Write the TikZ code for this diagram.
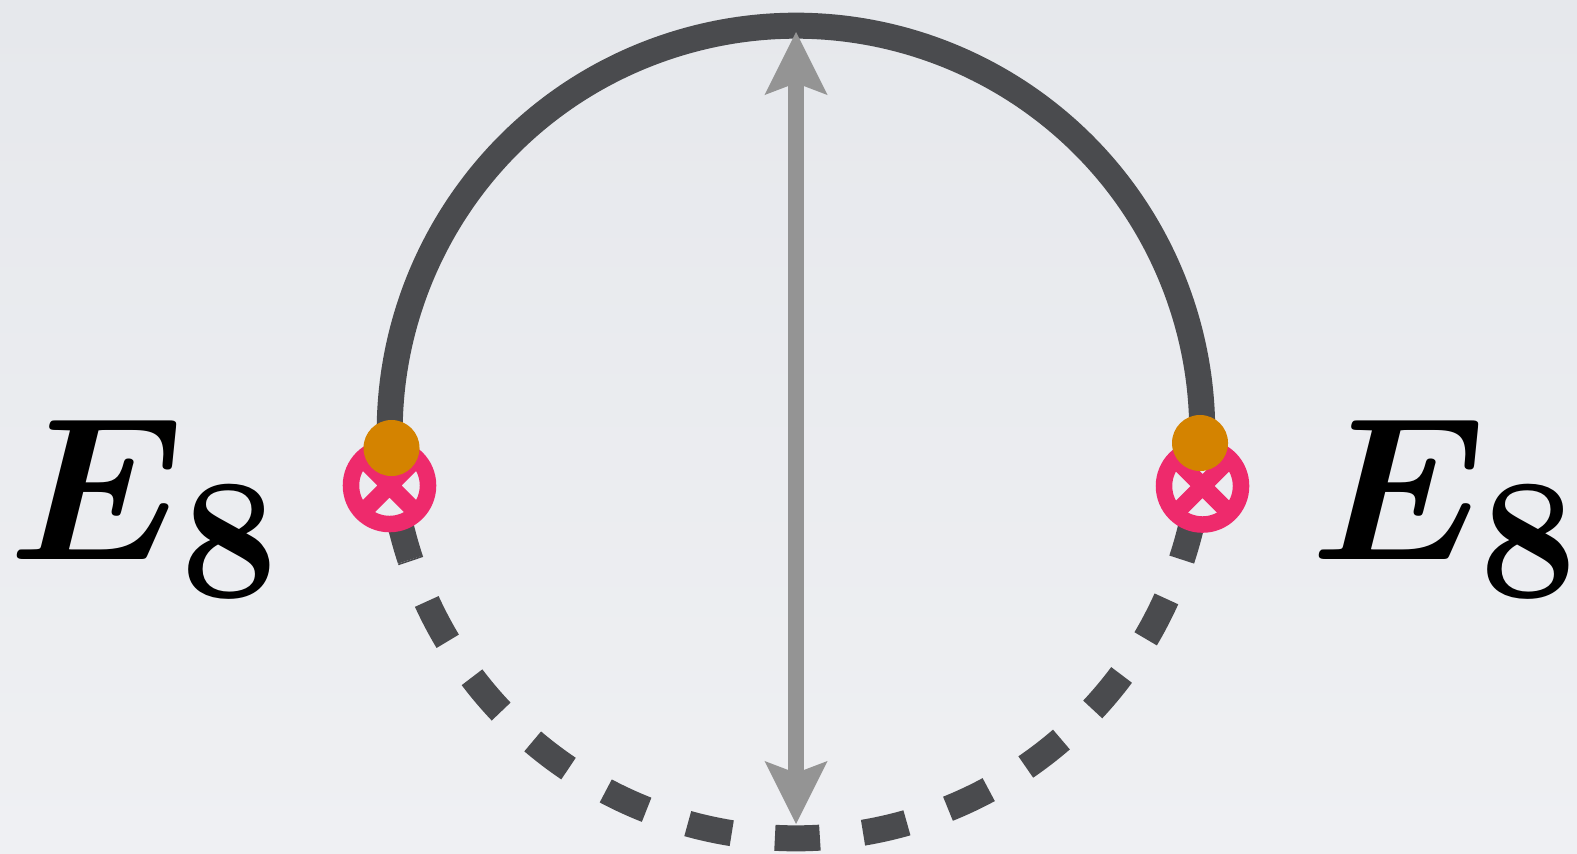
\documentclass[tikz,border=0pt]{standalone}
\usepackage{amsmath}
\usetikzlibrary{arrows.meta}
\definecolor{bgtop}{HTML}{E6E8EC}
\definecolor{bgbot}{HTML}{EFF0F3}
\definecolor{loopgray}{HTML}{4A4B4E}
\definecolor{axisgray}{HTML}{949494}
\definecolor{branepink}{HTML}{EE2A6C}
\definecolor{pointorange}{HTML}{D48300}
\tikzset{
  loopline/.style={draw=loopgray, line width=0.26cm},
  brane/.style={circle, draw=branepink, fill=bgbot!60!bgtop, line width=0.165cm, minimum size=0.77cm, inner sep=0pt, outer sep=0pt},
  orangedot/.style={circle, fill=pointorange, minimum size=0.56cm, inner sep=0pt},
  elabel/.style={font=\Huge\boldmath, scale=2.33, anchor=base west, inner sep=0pt}
}
\begin{document}
\begin{tikzpicture}[x=0.01cm, y=0.01cm, >={Stealth[length=0.63cm, width=0.63cm, inset=0.12cm, line width=0pt]}]
  \useasboundingbox[top color=bgtop, bottom color=bgbot] (0,0) rectangle (1577,853);
  \coordinate (O) at (796,421);
  % lower half, dashed
  \draw[loopline, dash pattern=on 0.45cm off 0.434cm, dash phase=0.434cm]
    (O) ++(198.3:4.06cm) arc[start angle=198.3, end angle=341.7, radius=4.06cm];
  % upper half, solid
  \draw[loopline] (O) ++(198.3:4.06cm) arc[start angle=198.3, end angle=-18.3, radius=4.06cm];
  % the interval
  \coordinate (top) at (796,821);
  \coordinate (bot) at (796,29);
  \draw[axisgray, line width=0.16cm, <->] (bot) -- (top);
  \foreach \s/\px/\py/\ox/\oy in {L/389.5/367.5/391.5/405, R/1202.5/367/1200/410} {
    \node[brane] (brane\s) at (\px,\py) {};
    \draw[branepink, line width=0.17cm] (brane\s.45) -- (brane\s.225) (brane\s.135) -- (brane\s.-45);
    \node[orangedot] (pt\s) at (\ox,\oy) {};
  }
  \node[elabel] (e8L) at (7,294) {$E_{\mkern0.6mu\mathnormal{8}}$};
  \node[elabel] (e8R) at (1309,294) {$E_{\mkern0.3mu\mathnormal{8}}$};
\end{tikzpicture}
\end{document}
